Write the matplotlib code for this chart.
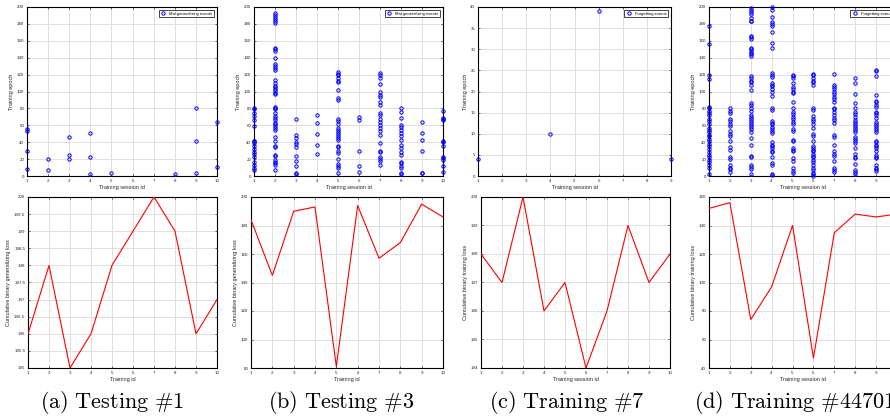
import matplotlib
matplotlib.use("Agg")
import matplotlib.pyplot as plt
from matplotlib.lines import Line2D
from matplotlib.ticker import FormatStrFormatter

plt.rcParams["font.family"] = ["Liberation Sans", "DejaVu Sans"]
plt.rcParams["mathtext.fontset"] = "cm"

W, H = 890, 420

# ==== DATA ====
sessions = [1, 2, 3, 4, 5, 6, 7, 8, 9, 10]

# epochs of events, one list per training session
a_events = [
    [56, 53, 29, 8],
    [20, 7],
    [46, 25, 20],
    [51, 23, 2],
    [3],
    [],
    [],
    [2],
    [81, 41, 3],
    [64, 11],
]
b_events = [
    [81, 79, 75, 71, 66, 59, 42, 41, 39, 35, 32, 28, 26, 22, 16, 13, 9, 7],
    [193, 191, 188, 186, 183, 181, 151, 150, 148, 140, 132, 130, 128, 126,
     114, 110, 107, 105, 103, 101, 98, 97, 82, 80, 79, 74, 71, 69, 66, 63,
     61, 59, 57, 55, 46, 42, 35, 34, 25, 24, 19, 17, 15, 13, 7],
    [67, 48, 45, 40, 38, 34, 24, 18, 12, 3, 2],
    [72, 63, 50, 37, 26],
    [123, 121, 119, 116, 113, 111, 102, 92, 90, 68, 65, 61, 57, 55, 52, 50,
     47, 45, 43, 36, 34, 30, 27, 20, 14, 12, 9, 4],
    [70, 66, 30, 12, 5],
    [122, 120, 116, 109, 100, 96, 93, 87, 84, 75, 72, 67, 64, 60, 57, 53,
     48, 39, 30, 28, 22, 20, 18, 13],
    [80, 76, 69, 60, 58, 54, 51, 47, 43, 37, 33, 28, 25, 17, 15, 12, 10, 3, 2],
    [64, 51, 43, 30, 4, 3],
    [77, 69, 67, 66, 41, 40, 35, 22, 21, 19, 12, 5],
]
c_sessions = [1, 2, 3, 4, 5, 6, 7, 8, 9]
c_events = [[4], [], [], [10], [], [39], [], [], [4]]
d_events = [
    [177, 156, 120, 115, 82, 80, 77, 75, 72, 68, 65, 61, 57, 55, 52, 49, 47,
     44, 41, 38, 35, 32, 28, 25, 22, 19, 16, 13, 10, 2],
    [80, 77, 75, 67, 65, 62, 59, 53, 50, 47, 41, 34, 31, 23, 20, 13, 10, 8, 5],
    [199, 197, 194, 192, 187, 184, 183, 166, 164, 162, 152, 150, 148, 146,
     144, 142, 118, 116, 113, 111, 108, 102, 86, 84, 80, 77, 72, 70, 68, 65,
     63, 60, 58, 56, 52, 45, 37, 24, 22, 13, 11, 8, 2],
    [200, 197, 188, 182, 180, 178, 171, 157, 151, 122, 119, 117, 110, 108,
     106, 103, 100, 95, 80, 78, 65, 63, 61, 58, 56, 53, 51, 40, 37, 35, 33,
     30, 28, 22, 15, 13, 2, 1],
    [120, 118, 116, 110, 105, 103, 100, 98, 88, 80, 76, 73, 70, 67, 64, 61,
     56, 53, 43, 41, 33, 31, 29, 21, 18, 9, 6, 3],
    [121, 119, 116, 113, 111, 108, 80, 78, 71, 68, 65, 61, 57, 50, 47, 41,
     36, 33, 31, 29, 26, 24, 22, 19, 16, 13, 10, 7, 4, 2, 0],
    [121, 108, 105, 103, 100, 97, 94, 91, 88, 81, 79, 76, 72, 69, 66, 63,
     49, 46, 37, 29, 26, 24, 18, 10, 7, 5],
    [116, 110, 97, 86, 80, 76, 73, 70, 66, 64, 61, 59, 57, 54, 52, 46, 44,
     41, 39, 33, 26, 23, 21, 14, 7, 5, 2],
    [126, 124, 118, 96, 89, 87, 84, 82, 76, 74, 72, 69, 64, 61, 59, 57, 54,
     52, 42, 40, 37, 35, 33, 30, 25, 23, 21, 13, 10, 8, 6],
]

a_loss = [196, 198, 195, 196, 198, 199, 200, 199, 196, 197]
b_loss = [184, 145, 190, 193, 81, 194, 157, 168, 195, 186]
c_loss = [198, 197, 200, 196, 197, 194, 196, 199, 197, 198]
d_loss = [152, 156, 74, 97, 140, 47, 135, 148, 146, 148]

captions = ["(a) Testing #1", "(b) Testing #3", "(c) Training #7",
            "(d) Training #44701"]


def rect(x0, y0, x1, y1):
    return [x0 / W, 1 - y1 / H, (x1 - x0) / W, (y1 - y0) / H]


def style(ax, xlabel, ylabel, xlim, ylim, yticks):
    ax.set_xlim(xlim)
    ax.set_ylim(ylim)
    ax.set_xticks(range(xlim[0], xlim[1] + 1))
    ax.set_yticks(yticks)
    ax.yaxis.set_major_formatter(FormatStrFormatter("%g"))
    ax.grid(True, color="#dedede", linewidth=0.7)
    ax.set_axisbelow(True)
    ax.tick_params(direction="in", length=1.5, width=0.5, labelsize=3.2,
                   colors="#262626", pad=2, top=True, right=True)
    for s in ax.spines.values():
        s.set_linewidth(0.8)
    ax.set_xlabel(xlabel, fontsize=4, color="#262626", labelpad=1.5)
    ax.set_ylabel(ylabel, fontsize=4, color="#262626", labelpad=2)


def scatter_panel(box, xs, events, label, xlim, ylim, yticks):
    ax = fig.add_axes(rect(*box))
    px, py = [], []
    for s, ev in zip(xs, events):
        for e in ev:
            px.append(s)
            py.append(e)
    ax.plot(px, py, "o", color="b", ms=2.4, mew=0.7, mfc="none",
            clip_on=False, zorder=3)
    style(ax, "Training session id", "Training epoch", xlim, ylim, yticks)
    h = Line2D([], [], marker="o", ls="none", color="b", ms=2.4, mew=0.7,
               mfc="none")
    leg = ax.legend([h], [label], loc="upper right", fontsize=3,
                    fancybox=False, framealpha=1, edgecolor="#262626",
                    borderpad=0.3, handletextpad=0.6, handlelength=1.6,
                    borderaxespad=0.8)
    leg.get_frame().set_linewidth(0.6)
    return ax


def line_panel(box, loss, xlabel, ylabel, ylim, yticks):
    ax = fig.add_axes(rect(*box))
    ax.plot(sessions, loss, color="r", lw=0.8, zorder=3)
    style(ax, xlabel, ylabel, (1, 10), ylim, yticks)
    return ax


fig = plt.figure(figsize=(W / 100, H / 100), dpi=100)

ep_ticks = range(0, 201, 20)
scatter_panel((27, 7, 217, 176), sessions, a_events,
              "Mal-generalizing events", (1, 10), (0, 200), ep_ticks)
scatter_panel((254, 7, 443, 176), sessions, b_events,
              "Mal-generalizing events", (1, 10), (0, 200), ep_ticks)
scatter_panel((478, 7, 671, 176), c_sessions, c_events,
              "Forgetting events", (1, 9), (0, 40), range(0, 41, 5))
scatter_panel((709, 7, 897, 176), sessions[:9], d_events,
              "Forgetting events", (1, 10), (0, 200), ep_ticks)

line_panel((28, 197, 217, 368), a_loss, "Training id",
           "Cumulative binary generalizing loss", (195, 200),
           [195 + 0.5 * i for i in range(11)])
line_panel((251, 197, 443, 368), b_loss, "Training id",
           "Cumulative binary generalizing loss", (80, 200),
           range(80, 201, 20))
line_panel((481, 197, 670, 368), c_loss, "Training session id",
           "Cumulative binary training loss", (194, 200), range(194, 201))
line_panel((709, 197, 897, 368), d_loss, "Training session id",
           "Cumulative binary training loss", (40, 160), range(40, 161, 20))

# ==== CAPTIONS ====
cap_x = [112, 341, 567, 694]
for i, (cx, txt) in enumerate(zip(cap_x, captions)):
    math = r"$\mathrm{" + txt.replace(" ", r"\ ").replace("#", r"\#") + "}$"
    fig.text(cx / W, 1 - 403 / H, math, fontsize=16,
             ha="left" if i == 3 else "center", va="center")

fig.savefig("out.png", dpi=100)
